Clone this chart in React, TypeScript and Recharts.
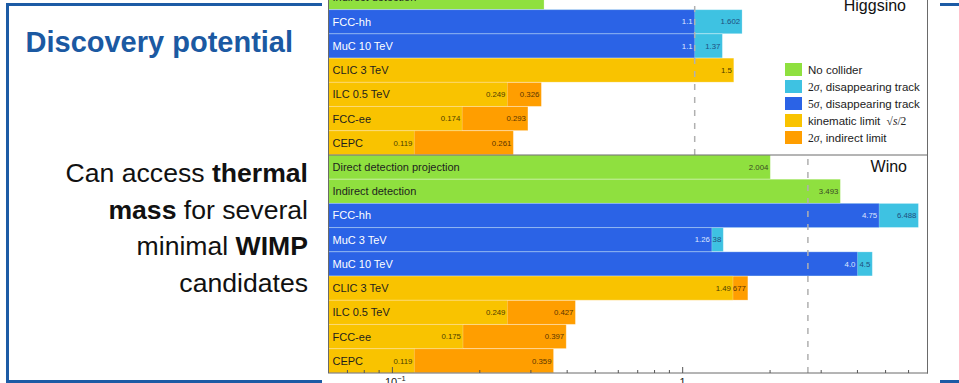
import React from 'react';
import { BarChart, Bar, XAxis, YAxis, ReferenceLine, Legend } from 'recharts';

// ---------- Higgsino panel (rows top to bottom) ----------
const higgsinoCategories = ['Indirect detection', 'FCC-hh', 'MuC 10 TeV', 'CLIC 3 TeV', 'ILC 0.5 TeV', 'FCC-ee', 'CEPC'];
const higgsinoNoCollider = [0.333, null, null, null, null, null, null];
const higgsinoTwoSigmaTrack = [null, 1.602, 1.37, null, null, null, null];
const higgsinoFiveSigmaTrack = [null, 1.1, 1.1, null, null, null, null];
const higgsinoKinematic = [null, null, null, 1.5, 0.249, 0.174, 0.119];
const higgsinoIndirectLimit = [null, null, null, null, 0.326, 0.293, 0.261];
const higgsinoThermalMass = 1.1;

// ---------- Wino panel (rows top to bottom) ----------
const winoCategories = ['Direct detection projection', 'Indirect detection', 'FCC-hh', 'MuC 3 TeV', 'MuC 10 TeV', 'CLIC 3 TeV', 'ILC 0.5 TeV', 'FCC-ee', 'CEPC'];
const winoNoCollider = [2.004, 3.493, null, null, null, null, null, null, null];
const winoTwoSigmaTrack = [null, null, 6.488, 1.38, 4.5, null, null, null, null];
const winoFiveSigmaTrack = [null, null, 4.75, 1.26, 4.0, null, null, null, null];
const winoKinematic = [null, null, null, null, null, 1.49, 0.249, 0.175, 0.119];
const winoIndirectLimit = [null, null, null, null, null, 1.677, 0.427, 0.397, 0.359];
const winoThermalMass = 2.7;

// ---------- axis ----------
const massDomain = [0.06, 7];
const massTicks = [0.07, 0.08, 0.09, 0.1, 0.2, 0.3, 0.4, 0.5, 0.6, 0.7, 0.8, 0.9, 1, 2, 3, 4, 5, 6];
const majorTicks = [0.1, 1];
const majorTickBase = ['10', '1'];
const majorTickExp = ['\u22121', ''];

const FONT = '"Liberation Sans", Arial, Helvetica, sans-serif';
const SERIF = '"Liberation Serif", "DejaVu Serif", serif';

type Series = { key: string; name: string; fill: string; text: string };
// legend order
const SERIES: Series[] = [
  { key: 'noCollider', name: 'No collider', fill: '#8fe03f', text: '#3a4a25' },
  { key: 'twoSigmaTrack', name: '2\u03c3, disappearing track', fill: '#3ec2e2', text: '#1f4f80' },
  { key: 'fiveSigmaTrack', name: '5\u03c3, disappearing track', fill: '#2b63e6', text: '#dfe7ff' },
  { key: 'kinematic', name: 'kinematic limit  \u221as/2', fill: '#f9c300', text: '#4d3e00' },
  { key: 'indirectLimit', name: '2\u03c3, indirect limit', fill: '#ff9e00', text: '#5a3600' },
];
// drawing order: longer reach first, shorter on top
const DRAW_ORDER = ['noCollider', 'twoSigmaTrack', 'indirectLimit', 'fiveSigmaTrack', 'kinematic'];

function buildRows(cats: string[], nc: any[], two: any[], five: any[], kin: any[], ind: any[]) {
  return cats.map((name, i) => ({
    name,
    noCollider: nc[i],
    twoSigmaTrack: two[i],
    fiveSigmaTrack: five[i],
    kinematic: kin[i],
    indirectLimit: ind[i],
  }));
}

const higgsinoRows = buildRows(higgsinoCategories, higgsinoNoCollider, higgsinoTwoSigmaTrack, higgsinoFiveSigmaTrack, higgsinoKinematic, higgsinoIndirectLimit);
const winoRows = buildRows(winoCategories, winoNoCollider, winoTwoSigmaTrack, winoFiveSigmaTrack, winoKinematic, winoIndirectLimit);

const fmt = (v: number) => (Number.isInteger(v) ? v.toFixed(1) : String(v));

const makeShape = (s: Series) => (props: any) => {
  const { x, y, width, height, payload } = props;
  const v = payload ? payload[s.key] : null;
  if (typeof v !== 'number' || !(width > 0) || !isFinite(x)) return <g />;
  return (
    <g>
      <rect x={x} y={y} width={width} height={height} fill={s.fill} stroke="#ffffff" strokeOpacity={0.3} strokeWidth={0.8} />
      <text x={x + width - 2} y={y + height / 2} dy="0.35em" textAnchor="end" fontSize={7.8} fill={s.text} fontFamily={FONT}>
        {fmt(v)}
      </text>
    </g>
  );
};

const NameShape = (props: any) => {
  const { x, y, height, payload } = props;
  if (!payload || !isFinite(x)) return <g />;
  const light = typeof payload.fiveSigmaTrack === 'number';
  return (
    <text x={x + 4.5} y={y + height / 2} dy="0.36em" fontSize={11} fill={light ? '#ffffff' : '#1e1e1e'} fontFamily={FONT}>
      {payload.name}
    </text>
  );
};

const MassTick = (props: any) => {
  const { x, y, payload } = props;
  const v = payload.value;
  const idx = majorTicks.indexOf(v);
  const major = idx >= 0;
  return (
    <g>
      <line x1={x} x2={x} y1={y} y2={y - (major ? 6 : 3)} stroke="#555" strokeWidth={1} />
      {major && (
        <text x={x + (majorTickExp[idx] ? 3 : 0)} y={y + 13} textAnchor="middle" fontSize={11} fill="#222" fontFamily={FONT}>
          {majorTickBase[idx]}
          {majorTickExp[idx] && (
            <tspan dy={-5} fontSize={7.5}>
              {majorTickExp[idx]}
            </tspan>
          )}
        </text>
      )}
    </g>
  );
};

function fancy(t: string) {
  const parts = t.split(/(2\u03c3|5\u03c3|\u221as\/2)/);
  return parts.map((p, i) => {
    if (p === '2\u03c3' || p === '5\u03c3')
      return (
        <span key={i} style={{ fontFamily: SERIF }}>
          {p[0]}
          <i>{'\u03c3'}</i>
        </span>
      );
    if (p === '\u221as/2')
      return (
        <span key={i} style={{ fontFamily: SERIF }}>
          {'\u221a'}
          <i>s</i>/2
        </span>
      );
    return <span key={i} style={{ whiteSpace: 'pre' }}>{p}</span>;
  });
}

const LegendContent = (props: any) => {
  const payload = (props.payload || []).filter((p: any) => p.type !== 'none');
  const order = SERIES.map((s) => s.name);
  const items = [...payload].sort((a: any, b: any) => order.indexOf(a.value) - order.indexOf(b.value));
  return (
    <div style={{ fontFamily: FONT, fontSize: 11.5, color: '#222' }}>
      {items.map((it: any) => (
        <div key={it.value} style={{ display: 'flex', alignItems: 'center', height: 17 }}>
          <span style={{ width: 17, height: 13, background: it.color, marginRight: 6, display: 'inline-block', flex: 'none' }} />
          <span style={{ whiteSpace: 'nowrap' }}>{fancy(it.value)}</span>
        </div>
      ))}
    </div>
  );
};

type PanelProps = {
  data: any[];
  height: number;
  top: number;
  marginTop: number;
  thermal: number;
  showAxis: boolean;
  legend?: boolean;
};

function Panel({ data, height, top, marginTop, thermal, showAxis, legend }: PanelProps) {
  const byKey: Record<string, Series> = {};
  SERIES.forEach((s) => (byKey[s.key] = s));
  return (
    <div style={{ position: 'absolute', left: 322, top, width: 618, height }}>
      <BarChart
        layout="vertical"
        width={618}
        height={height}
        data={data}
        margin={{ top: marginTop, right: 12, bottom: 0, left: 6 }}
        barCategoryGap={0}
        barGap={0}
      >
        <XAxis
          type="number"
          scale="log"
          domain={massDomain}
          allowDataOverflow
          ticks={massTicks}
          interval={0}
          hide={!showAxis}
          height={10}
          tickLine={false}
          tickSize={0}
          tickMargin={0}
          axisLine={{ stroke: '#6a6a6a' }}
          tick={<MassTick />}
        />
        {DRAW_ORDER.map((k) => (
          <YAxis key={k} yAxisId={k} type="category" dataKey="name" hide />
        ))}
        <YAxis yAxisId="names" type="category" dataKey="name" hide />
        {DRAW_ORDER.map((k) => (
          <Bar
            key={k}
            yAxisId={k}
            dataKey={k}
            name={byKey[k].name}
            fill={byKey[k].fill}
            isAnimationActive={false}
            shape={makeShape(byKey[k])}
          />
        ))}
        <Bar
          yAxisId="names"
          dataKey={() => massDomain[1]}
          legendType="none"
          fill="none"
          isAnimationActive={false}
          shape={NameShape}
        />
        <ReferenceLine
          x={thermal}
          yAxisId="names"
          stroke="#b0b0b0"
          strokeWidth={1.5}
          strokeDasharray="6 7"
        />
        {legend && (
          <Legend
            layout="vertical"
            align="center"
            verticalAlign="middle"
            wrapperStyle={{ left: 463, top: 81, width: 175, height: 'auto' }}
            content={(p: any) => <LegendContent {...p} />}
          />
        )}
      </BarChart>
    </div>
  );
}

export default function App() {
  return (
    <div
      style={{
        position: 'absolute',
        left: 0,
        top: 0,
        width: 959,
        height: 383,
        overflow: 'hidden',
        background: '#ffffff',
        fontFamily: FONT,
      }}
    >
      <svg width={959} height={383} style={{ position: 'absolute', left: 0, top: 0 }}>
        <rect x={7.5} y={4.5} width={1000} height={377} fill="none" stroke="#1c5ba5" strokeWidth={3} />
        <text x={25.5} y={52} fontFamily={FONT} fontWeight="bold" fontSize={29} fill="#1b59a2">
          Discovery potential
        </text>
        <g fontFamily={FONT} fontSize={26.6} fill="#111" textAnchor="end">
          <text x={308} y={182}>
            Can access <tspan fontWeight="bold">thermal</tspan>
          </text>
          <text x={308} y={218.7}>
            <tspan fontWeight="bold">mass</tspan> for several
          </text>
          <text x={308} y={255.3}>
            minimal <tspan fontWeight="bold">WIMP</tspan>
          </text>
          <text x={308} y={292}>
            candidates
          </text>
        </g>
      </svg>
      <div style={{ position: 'absolute', left: 322, top: 0, width: 618, height: 383, background: '#ffffff' }} />
      <Panel data={higgsinoRows} height={175} top={-20} marginTop={5.5} thermal={higgsinoThermalMass} showAxis={false} legend />
      <Panel data={winoRows} height={233} top={150} marginTop={5} thermal={winoThermalMass} showAxis />
      <svg width={959} height={383} style={{ position: 'absolute', left: 0, top: 0, pointerEvents: 'none' }}>
        <line x1={328.5} x2={328.5} y1={0} y2={373} stroke="#6a6a6a" strokeWidth={1} />
        <line x1={927.5} x2={927.5} y1={0} y2={373.5} stroke="#6a6a6a" strokeWidth={1} />
        <line x1={328} x2={928} y1={155} y2={155} stroke="#6a6a6a" strokeWidth={1} />
        <text x={906} y={11} textAnchor="end" fontFamily={FONT} fontSize={16} fill="#111">
          Higgsino
        </text>
        <text x={907} y={172} textAnchor="end" fontFamily={FONT} fontSize={16} fill="#111">
          Wino
        </text>
      </svg>
    </div>
  );
}
